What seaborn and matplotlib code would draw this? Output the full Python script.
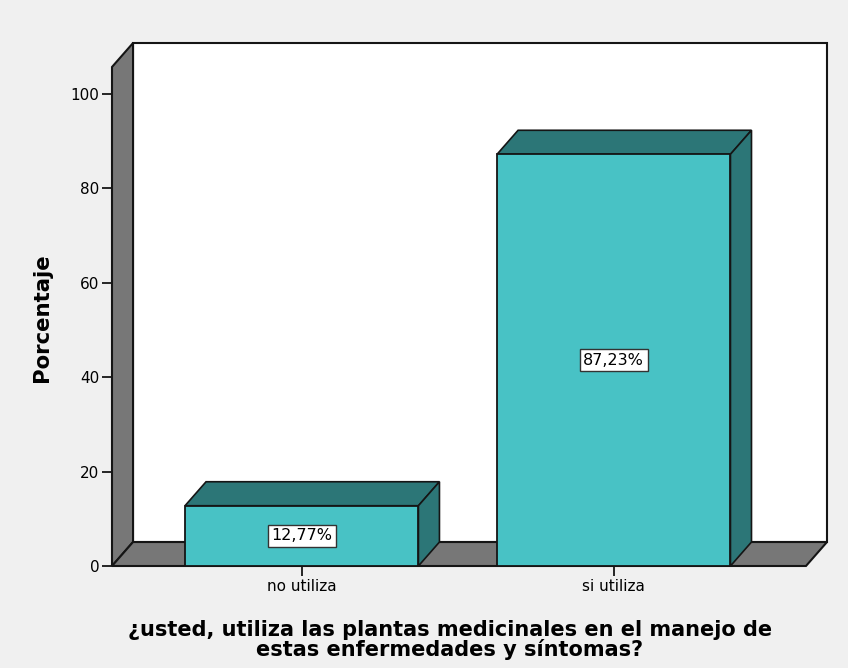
import matplotlib
matplotlib.use("Agg")
import matplotlib.pyplot as plt
from matplotlib.patches import Polygon, Rectangle
import seaborn as sns

# data
categories = ["no utiliza", "si utiliza"]
percentages = [12.77, 87.23]
bar_labels = ["12,77%", "87,23%"]
yticks = [0, 20, 40, 60, 80, 100]

FRONT = "#48C2C5"
DARK = "#2C7677"
WALL = "#777777"
BG = "#F0F0F0"
EDGE = "#151515"

sns.set_style("white")
plt.rcParams['font.family'] = ['DejaVu Sans']
plt.rcParams['text.color'] = 'black'
plt.rcParams['xtick.color'] = 'black'
plt.rcParams['ytick.color'] = 'black'

fig = plt.figure(figsize=(8.48, 6.68), dpi=100)
fig.patch.set_facecolor(BG)
W, H = 848, 668
ax = fig.add_axes([112 / W, 1 - 566 / H, (827 - 112) / W, (566 - 43) / H])
ax.patch.set_alpha(0)

# 3d offset (data units)
x0, x1 = -0.608, 1.616
dx, dy = 0.0674, 5.08
ytop = 110.8

sns.barplot(x=categories, y=percentages, ax=ax, color=FRONT, width=0.748,
            saturation=1, edgecolor=EDGE, linewidth=1.3, zorder=5)
bars = list(ax.patches)

ax.set_xlim(x0, x1 + dx)
ax.set_ylim(0, ytop)

# back plane, left wall and floor
ax.add_patch(Rectangle((x0 + dx, dy), x1 - x0, ytop - dy, facecolor="white",
                       edgecolor=EDGE, linewidth=1.5, zorder=1, clip_on=False))
ax.add_patch(Polygon([(x0, 0), (x0 + dx, dy), (x0 + dx, ytop), (x0, ytop - dy)],
                     facecolor=WALL, edgecolor=EDGE, linewidth=1.5, zorder=2, clip_on=False))
ax.add_patch(Polygon([(x0, 0), (x0 + dx, dy), (x1 + dx, dy), (x1, 0)],
                     facecolor=WALL, edgecolor=EDGE, linewidth=1.5, zorder=2, clip_on=False))

for bar, lab in zip(bars, bar_labels):
    bx0 = bar.get_x()
    bx1 = bx0 + bar.get_width()
    h = bar.get_height()
    ax.add_patch(Polygon([(bx0, h), (bx0 + dx, h + dy), (bx1 + dx, h + dy), (bx1, h)],
                         facecolor=DARK, edgecolor=EDGE, linewidth=1.2, zorder=4))
    ax.add_patch(Polygon([(bx1, 0), (bx1 + dx, dy), (bx1 + dx, h + dy), (bx1, h)],
                         facecolor=DARK, edgecolor=EDGE, linewidth=1.2, zorder=4))
    ax.text(bx0 + bar.get_width() / 2, h / 2, lab, ha="center", va="center",
            fontsize=11.5, zorder=6, color="black",
            bbox=dict(boxstyle="square,pad=0.22", facecolor="white", edgecolor="#333333", linewidth=1))

for s in ax.spines.values():
    s.set_visible(False)

ax.set_yticks(yticks)
ax.set_yticklabels([str(t) for t in yticks])
ax.set_xticks([0, 1])
ax.set_xticklabels(categories)
ax.tick_params(axis="y", left=True, length=7, width=1.3, color=EDGE, labelcolor="black",
               labelsize=11, pad=2)
ax.tick_params(axis="x", bottom=True, length=7.5, width=1.3, color=EDGE, labelcolor="black",
               labelsize=11, pad=2)
ax.set_xlabel("")
ax.set_ylabel("")

fig.text(42 / W, 1 - 318 / H, "Porcentaje", rotation=90, ha="center", va="center",
         fontsize=15.3, fontweight="bold", color="black")
fig.text(450 / W, 1 - 640 / H,
         "¿usted, utiliza las plantas medicinales en el manejo de\nestas enfermedades y síntomas?",
         ha="center", va="center", fontsize=15, fontweight="bold", linespacing=0.92,
         color="black")

fig.savefig("out.png", dpi=100, facecolor=BG)
